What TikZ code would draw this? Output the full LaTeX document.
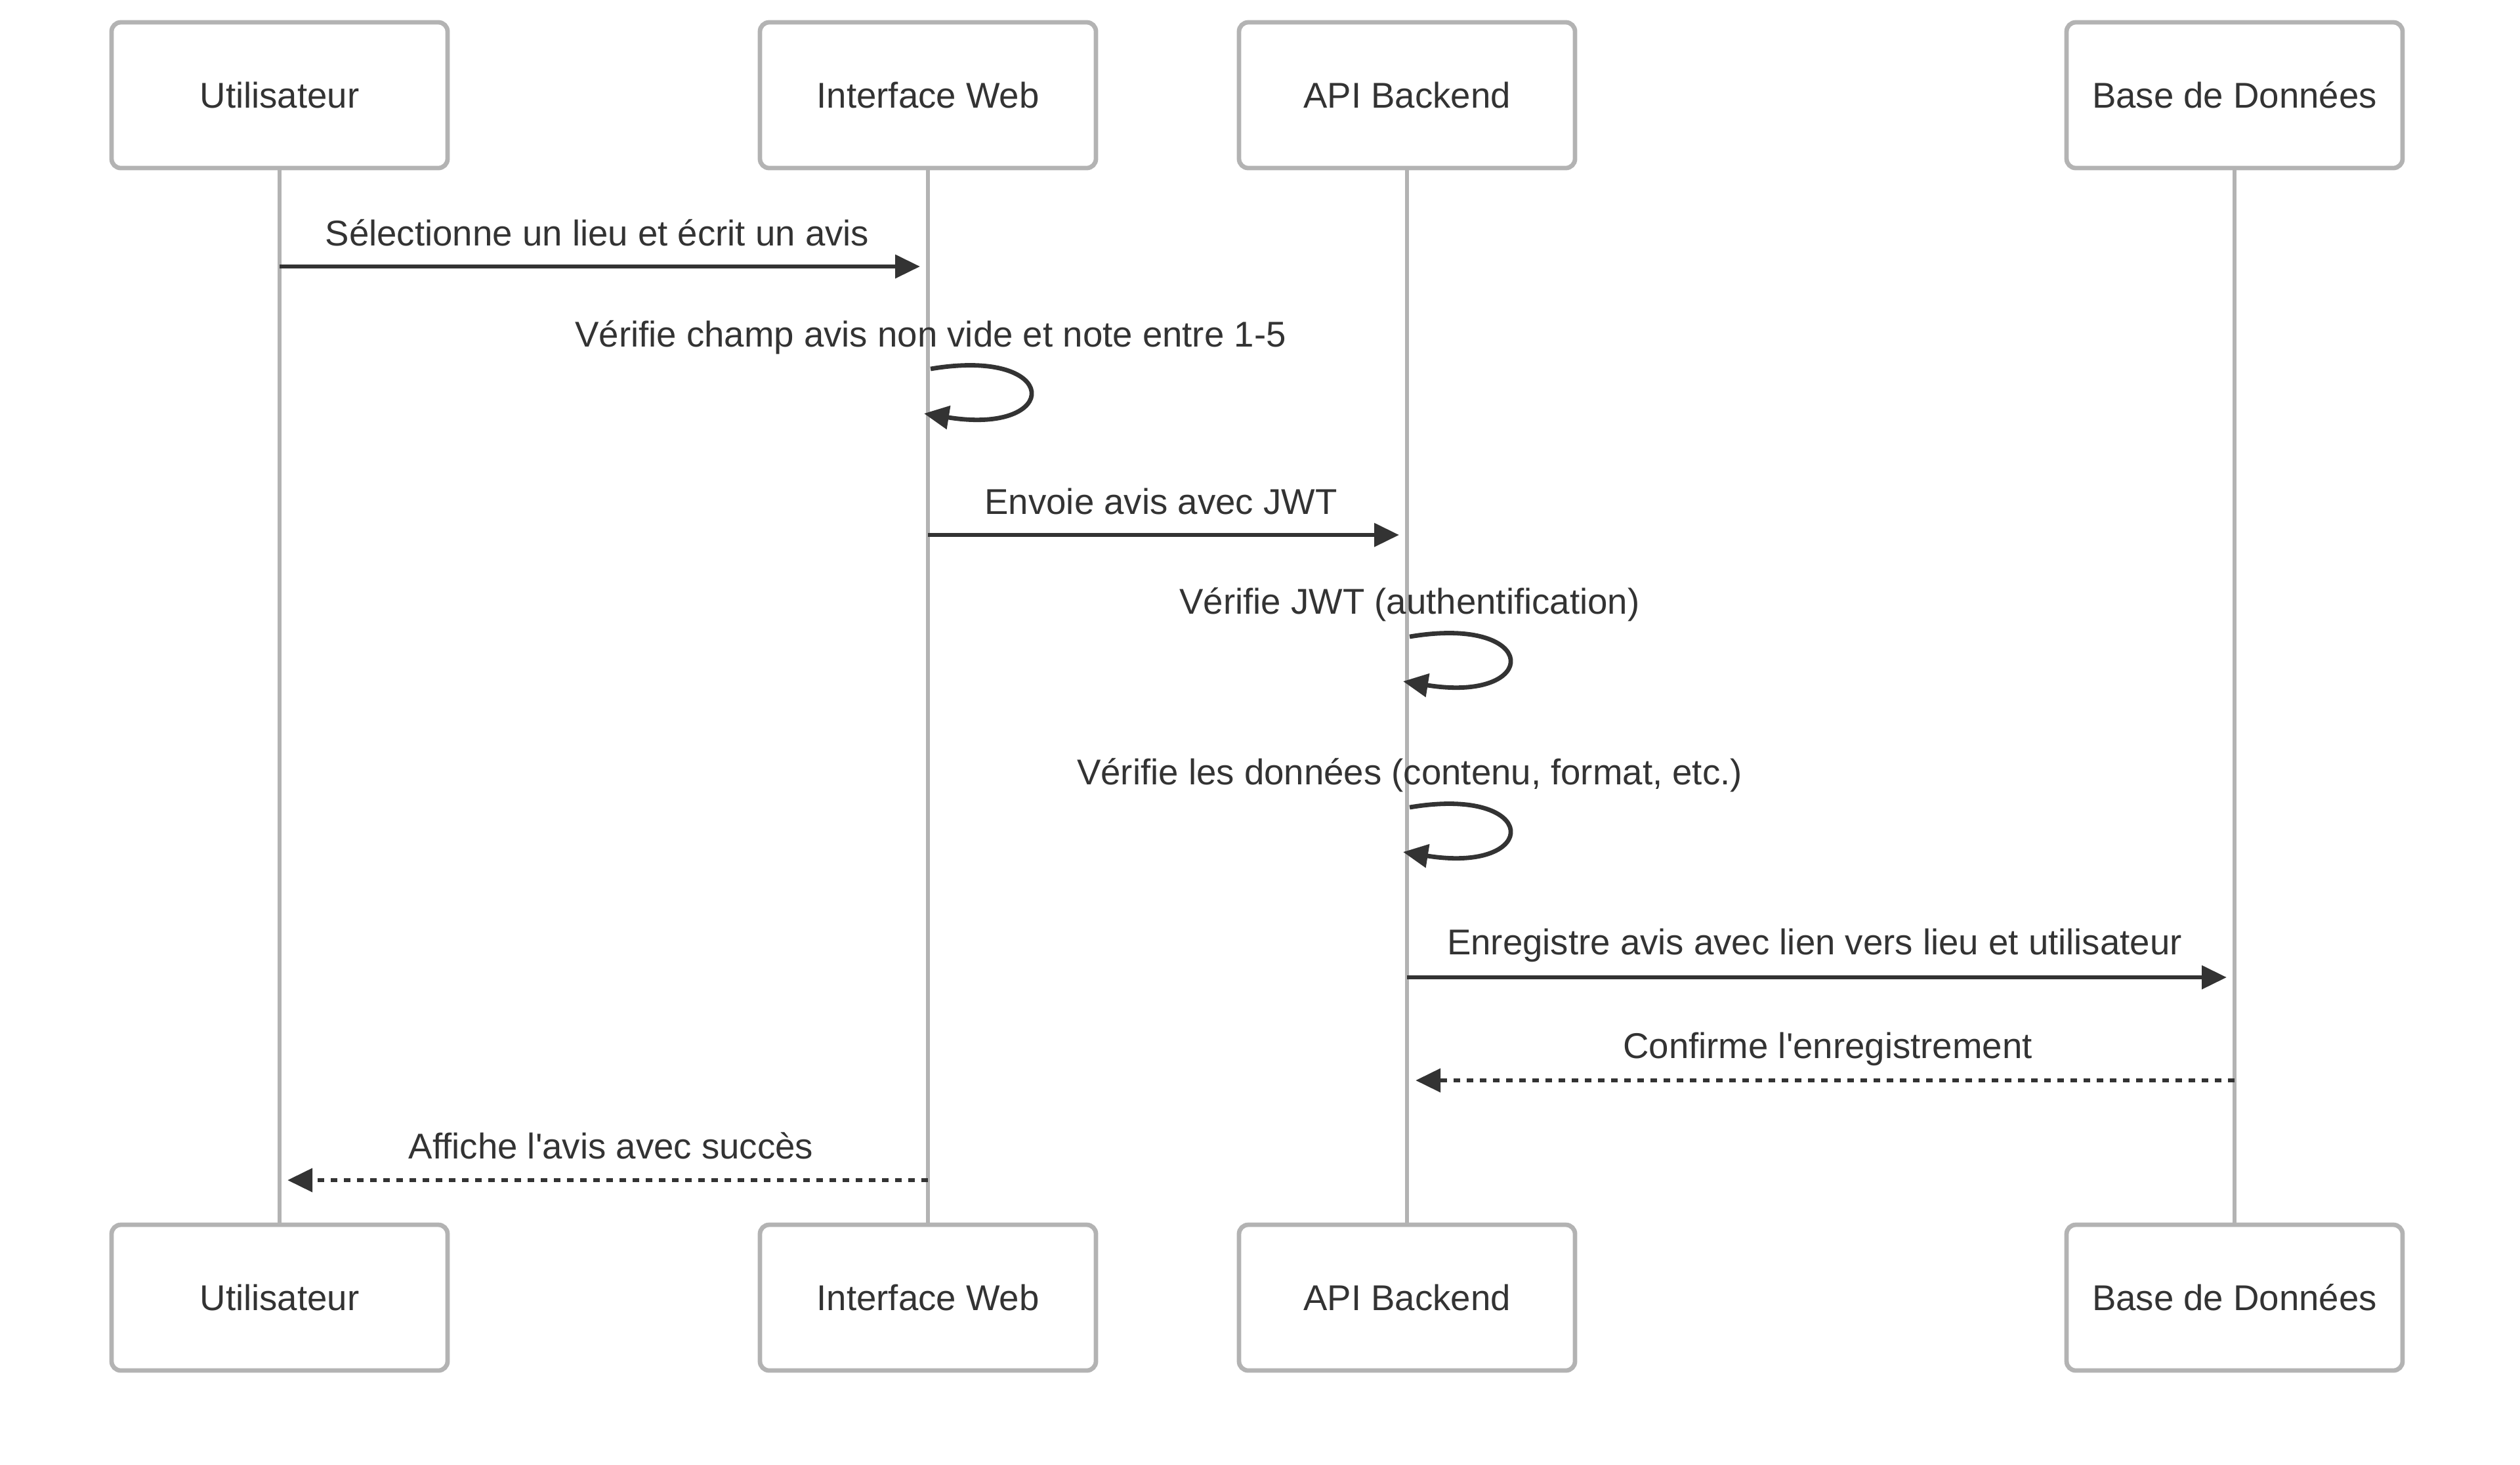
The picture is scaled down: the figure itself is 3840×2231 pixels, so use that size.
\documentclass[tikz,border=0pt]{standalone}
\usepackage{fontspec}
\setmainfont{Liberation Sans}
\usetikzlibrary{arrows.meta}
\definecolor{txt}{HTML}{333333}
\definecolor{lifec}{HTML}{B3B3B3}
\begin{document}
\begin{tikzpicture}[x=0.25pt,y=-0.25pt,
  actor/.style={draw=lifec, line width=1.7pt, fill=white, rounded corners=3.5pt,
    minimum width=128pt, minimum height=55.5pt, inner sep=0pt,
    text height=9.75pt, text depth=0pt,
    font=\fontsize{13.65pt}{16pt}\selectfont, text=txt},
  life/.style={draw=lifec, line width=1.7pt},
  msg/.style={draw=txt, line width=1.7pt, -{Triangle[length=9.5pt,width=8.75pt]}},
  reply/.style={msg, dash pattern=on 2.5pt off 2.5pt},
  lbl/.style={anchor=base, inner sep=0pt, text=txt,
    font=\fontsize{13.65pt}{16pt}\selectfont}]
\fill[white] (0,0) rectangle (3840,2231);
\useasboundingbox (0,0) rectangle (3840,2231);

% lifelines
\coordinate (Ut) at (426,256);  \coordinate (Ub) at (426,1866);
\coordinate (It) at (1414,256); \coordinate (Ib) at (1414,1866);
\coordinate (At) at (2144,256); \coordinate (Ab) at (2144,1866);
\coordinate (Bt) at (3405,256); \coordinate (Bb) at (3405,1866);
\draw[life] (Ut) -- (Ub);
\draw[life] (It) -- (Ib);
\draw[life] (At) -- (Ab);
\draw[life] (Bt) -- (Bb);

% actor boxes
\node[actor] (u1) at (426,145) {Utilisateur};
\node[actor] (i1) at (1414,145) {Interface Web};
\node[actor] (a1) at (2144,145) {API Backend};
\node[actor] (b1) at (3405,145) {Base de Données};
\node[actor] (u2) at (426,1977) {Utilisateur};
\node[actor] (i2) at (1414,1977) {Interface Web};
\node[actor] (a2) at (2144,1977) {API Backend};
\node[actor] (b2) at (3405,1977) {Base de Données};

% message 1
\coordinate (m1s) at (426,406); \coordinate (m1e) at (1402,406);
\draw[msg] (m1s) -- (m1e);
\node[lbl] (l1) at (910,374) {Sélectionne un lieu et écrit un avis};

% self 1
\coordinate (s1s) at (1418,562); \coordinate (s1e) at (1408,630);
\draw[msg] (s1s) .. controls (1619,528) and (1619,664) .. (s1e);
\node[lbl] (l2) at (1418,528) {Vérifie champ avis non vide et note entre 1-5};

% message 2
\coordinate (m2s) at (1414,815); \coordinate (m2e) at (2132,815);
\draw[msg] (m2s) -- (m2e);
\node[lbl] (l3) at (1769,783) {Envoie avis avec JWT};

% self 2
\coordinate (s2s) at (2148,970); \coordinate (s2e) at (2138,1038);
\draw[msg] (s2s) .. controls (2349,936) and (2349,1072) .. (s2e);
\node[lbl] (l4) at (2148,935) {Vérifie JWT (authentification)};

% self 3
\coordinate (s3s) at (2148,1230); \coordinate (s3e) at (2138,1298);
\draw[msg] (s3s) .. controls (2349,1196) and (2349,1332) .. (s3e);
\node[lbl] (l5) at (2148,1195) {Vérifie les données (contenu, format, etc.)};

% message 4
\coordinate (m4s) at (2144,1489); \coordinate (m4e) at (3393,1489);
\draw[msg] (m4s) -- (m4e);
\node[lbl] (l6) at (2765,1454) {Enregistre avis avec lien vers lieu et utilisateur};

% reply 5
\coordinate (m5s) at (3405,1646); \coordinate (m5e) at (2157,1646);
\draw[reply] (m5s) -- (m5e);
\node[lbl] (l7) at (2785,1612) {Confirme l\textquotesingle enregistrement};

% reply 6
\coordinate (m6s) at (1414,1798); \coordinate (m6e) at (438,1798);
\draw[reply] (m6s) -- (m6e);
\node[lbl] (l8) at (931,1765) {Affiche l\textquotesingle avis avec succès};
\end{tikzpicture}
\end{document}
